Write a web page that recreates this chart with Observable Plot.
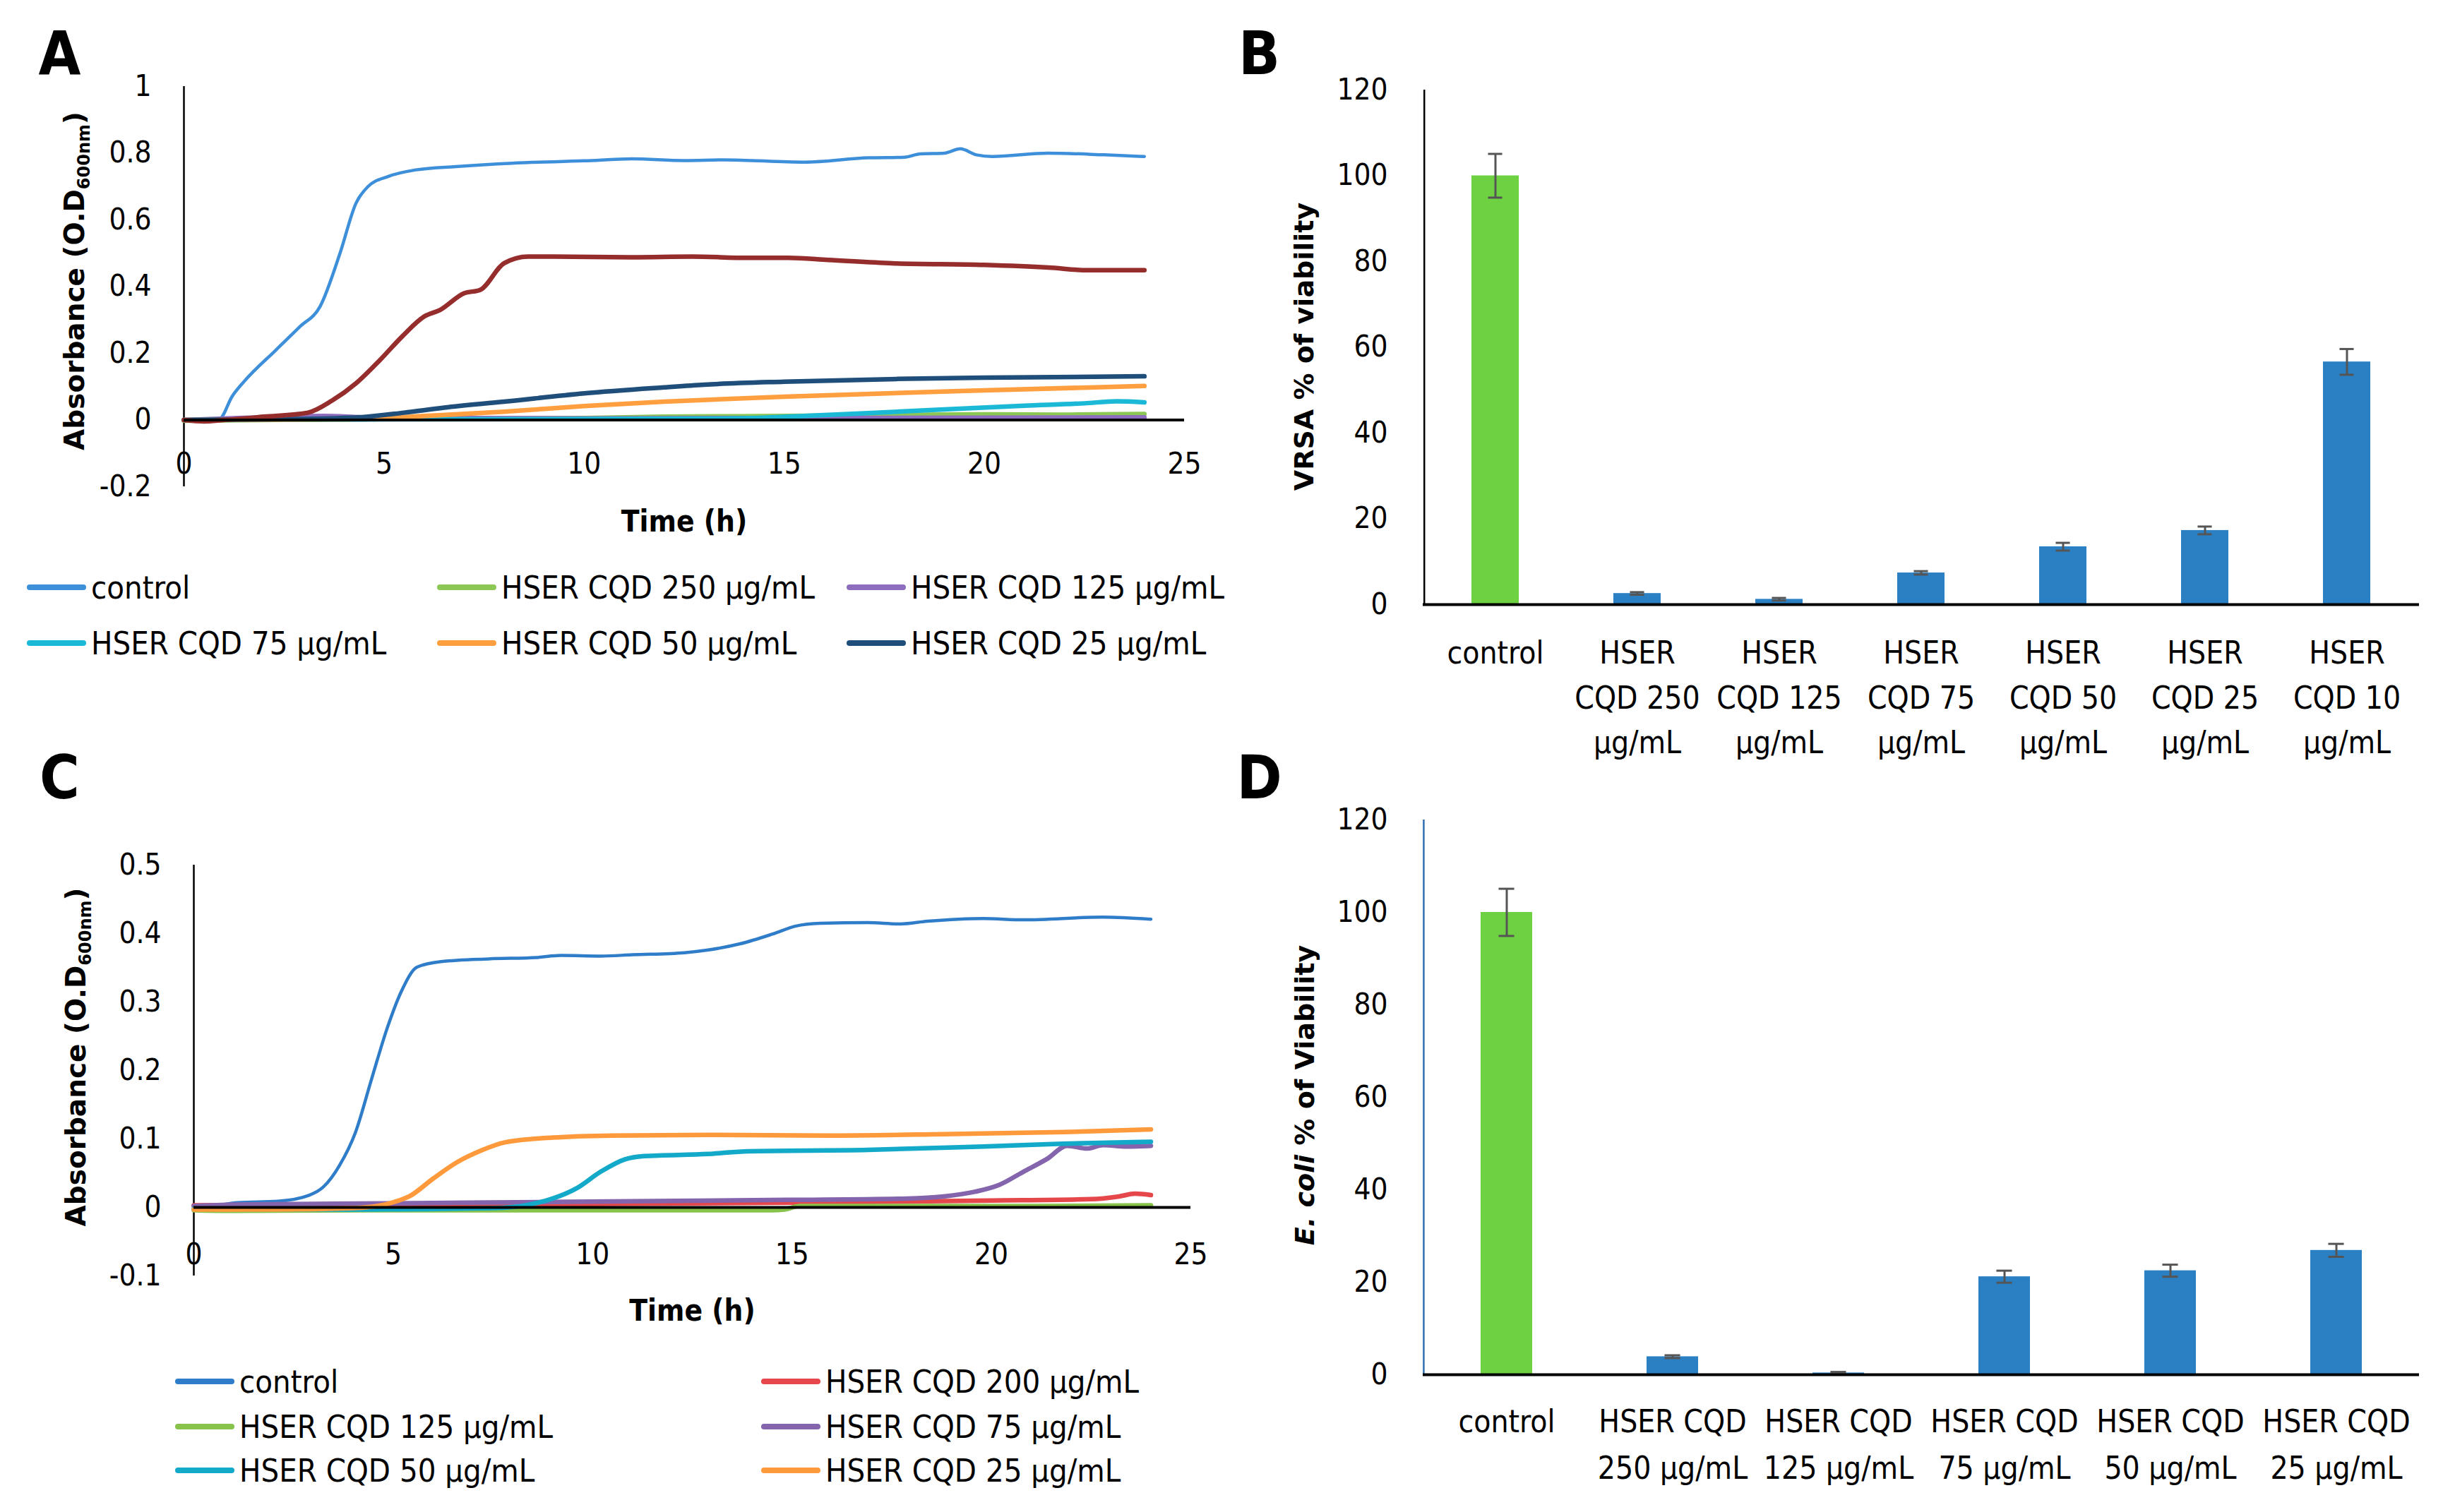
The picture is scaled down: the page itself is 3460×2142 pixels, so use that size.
<!DOCTYPE html>
<html>
<head>
<meta charset="utf-8">
<script src="https://cdn.jsdelivr.net/npm/d3@7"></script>
<script src="https://cdn.jsdelivr.net/npm/@observablehq/plot@0.6"></script>
<style>
  body { margin: 0; background: #fff; }
  #fig { position: relative; width: 3460px; height: 2142px; background: #fff; overflow: hidden; }
  .leg { position: absolute; height: 70px; display: flex; align-items: center; white-space: nowrap;
         font-family: 'DejaVu Sans Condensed', 'Open Sans', sans-serif; font-size: 45px; color: #000; }
  .sw { display: inline-block; width: 84px; height: 8px; margin-right: 7px; border-radius: 4px; }
</style>
</head>
<body>
<div id="fig"></div>
<script>
// ---------------- DATA ----------------
// Panel A: VRSA growth curves (time h, absorbance)
const aControl = [[0,0],[0.5,-0.004],[0.9,0.004],[1.2,0.07],[1.5,0.115],[2.3,0.21],[2.9,0.28],[3.4,0.34],[3.9,0.5],[4.3,0.65],[4.6,0.70],[5.1,0.73],[5.8,0.75],[6.8,0.76],[8.2,0.77],[10,0.777],[11.2,0.783],[12.5,0.778],[13.5,0.78],[15.5,0.773],[17.1,0.786],[18,0.788],[18.4,0.798],[19,0.80],[19.4,0.813],[19.8,0.795],[20.2,0.79],[21.6,0.80],[23,0.795],[24,0.79]];
const a250 = [[0,-0.002],[2,0],[5,0.003],[10,0.006],[12,0.01],[15,0.012],[18,0.015],[20,0.017],[22,0.016],[24,0.018]];
const a125 = [[0,0],[1,0.004],[2.5,0.01],[3.5,0.012],[4.5,0.008],[6,0.006],[10,0.005],[15,0.006],[20,0.007],[24,0.008]];
const a75 = [[0,0],[5,0.002],[13,0.004],[14.5,0.007],[15.5,0.012],[17,0.02],[19,0.032],[21,0.043],[22.5,0.05],[23.3,0.056],[24,0.053]];
const a50 = [[0,0],[4,0.002],[5,0.006],[6,0.012],[8,0.025],[10,0.042],[12,0.055],[15,0.07],[20,0.089],[24,0.102]];
const a25 = [[0,0],[3,0.003],[4.5,0.009],[5.5,0.022],[6.5,0.037],[8,0.055],[10,0.08],[12,0.098],[13,0.106],[15,0.115],[17.8,0.123],[20,0.127],[24,0.131]];
const a10 = [[0,0],[0.5,-0.004],[1,0],[2,0.01],[3.1,0.022],[3.7,0.058],[4.3,0.11],[4.9,0.18],[5.45,0.25],[6.0,0.31],[6.4,0.33],[7.0,0.38],[7.4,0.39],[8.0,0.47],[8.6,0.49],[9.2,0.49],[11.2,0.488],[12.7,0.49],[14.1,0.486],[15.1,0.486],[16.1,0.48],[17.7,0.47],[20,0.465],[21.6,0.457],[22.6,0.449],[24,0.449]];

// Panel C: E. coli growth curves
const cControl = [[0,0],[0.5,0.002],[1.1,0.007],[2.1,0.009],[2.9,0.018],[3.25,0.03],[3.65,0.061],[4.05,0.109],[4.45,0.186],[4.85,0.262],[5.2,0.315],[5.6,0.351],[6.2,0.359],[7.4,0.363],[8.6,0.365],[9.2,0.368],[10.2,0.367],[11,0.369],[12.3,0.372],[12.9,0.376],[13.7,0.385],[14.5,0.399],[15.1,0.411],[15.7,0.415],[16.9,0.416],[17.7,0.414],[18.4,0.418],[19.8,0.422],[20.8,0.42],[22.8,0.424],[24,0.421]];
const c200 = [[0,0.003],[5,0.004],[10,0.005],[15,0.007],[20,0.01],[22.5,0.012],[23.2,0.016],[23.6,0.02],[24,0.018]];
const c125 = [[0,-0.004],[1,-0.005],[5,-0.004],[10,-0.004],[14.5,-0.004],[14.8,-0.003],[15.2,0.002],[18,0.002],[21,0.002],[24,0.003]];
const c75 = [[0,0.002],[1,0.004],[5,0.006],[9,0.008],[14.9,0.011],[17.9,0.013],[18.8,0.016],[19.6,0.023],[20.2,0.033],[20.8,0.052],[21.4,0.071],[21.9,0.09],[22.4,0.086],[22.8,0.091],[23.4,0.089],[24,0.09]];
const c50 = [[0,-0.002],[4,-0.003],[7.5,-0.001],[8.4,0.004],[9.0,0.013],[9.6,0.028],[10.2,0.052],[10.8,0.07],[11.3,0.075],[12.9,0.078],[13.9,0.082],[16.9,0.084],[19.8,0.089],[21.8,0.093],[24,0.096]];
const c25 = [[0,-0.003],[2,-0.003],[4,-0.001],[4.6,0.002],[5.03,0.008],[5.4,0.016],[6.0,0.042],[6.6,0.066],[7.2,0.083],[7.8,0.095],[9.0,0.102],[10.5,0.105],[12.9,0.106],[15.9,0.105],[18.8,0.107],[21.8,0.11],[24,0.114]];

// Panel B: VRSA % viability
const catsB = ["control","HSER CQD 250 µg/mL","HSER CQD 125 µg/mL","HSER CQD 75 µg/mL","HSER CQD 50 µg/mL","HSER CQD 25 µg/mL","HSER CQD 10 µg/mL"];
const tickLabelsB = ["control","HSER\nCQD 250\nµg/mL","HSER\nCQD 125\nµg/mL","HSER\nCQD 75\nµg/mL","HSER\nCQD 50\nµg/mL","HSER\nCQD 25\nµg/mL","HSER\nCQD 10\nµg/mL"];
const valuesB = [100, 2.6, 1.25, 7.4, 13.5, 17.3, 56.6];
const errorsB = [5.1, 0.3, 0.3, 0.4, 0.9, 0.9, 3.0];

// Panel D: E. coli % viability
const catsD = ["control","HSER CQD 250 µg/mL","HSER CQD 125 µg/mL","HSER CQD 75 µg/mL","HSER CQD 50 µg/mL","HSER CQD 25 µg/mL"];
const tickLabelsD = ["control","HSER CQD\n250 µg/mL","HSER CQD\n125 µg/mL","HSER CQD\n75 µg/mL","HSER CQD\n50 µg/mL","HSER CQD\n25 µg/mL"];
const valuesD = [100, 3.9, 0.4, 21.2, 22.5, 26.9];
const errorsD = [5.1, 0.3, 0.2, 1.3, 1.3, 1.4];

const xTicks = [0, 5, 10, 15, 20, 25];
const yTicksA = [-0.2, 0, 0.2, 0.4, 0.6, 0.8, 1];
const yTicksC = [-0.1, 0, 0.1, 0.2, 0.3, 0.4, 0.5];
const yTicksBar = [0, 20, 40, 60, 80, 100, 120];

// ---------------- STYLE ----------------
const NARROW = "'DejaVu Sans Condensed', 'Open Sans', sans-serif";
const WIDE = "'DejaVu Sans', Verdana, sans-serif";
const GREEN = "#6DD142", BLUE = "#2B80C4", ERR = "#555555";

const seriesA = [
  {name: "control", color: "#3D8FD9", w: 4.5, pts: aControl, legend: [0, 0]},
  {name: "HSER CQD 250 µg/mL", color: "#8CC654", w: 6.5, pts: a250, legend: [1, 0]},
  {name: "HSER CQD 125 µg/mL", color: "#8E6DBF", w: 6.5, pts: a125, legend: [2, 0]},
  {name: "HSER CQD 75 µg/mL", color: "#1CB9D6", w: 6.5, pts: a75, legend: [0, 1]},
  {name: "HSER CQD 50 µg/mL", color: "#FF9F40", w: 6.5, pts: a50, legend: [1, 1]},
  {name: "HSER CQD 25 µg/mL", color: "#1F4E7A", w: 6.5, pts: a25, legend: [2, 1]},
  {name: "HSER CQD 10 µg/mL", color: "#962D2D", w: 6.5, pts: a10, legend: null}
];
const seriesC = [
  {name: "control", color: "#2F7DC8", w: 4.5, pts: cControl, legend: [0, 0]},
  {name: "HSER CQD 200 µg/mL", color: "#E5474B", w: 6.5, pts: c200, legend: [1, 0]},
  {name: "HSER CQD 125 µg/mL", color: "#87C24B", w: 6.5, pts: c125, legend: [0, 1]},
  {name: "HSER CQD 75 µg/mL", color: "#8464AC", w: 6.5, pts: c75, legend: [1, 1]},
  {name: "HSER CQD 50 µg/mL", color: "#13A9C9", w: 6.5, pts: c50, legend: [0, 2]},
  {name: "HSER CQD 25 µg/mL", color: "#FF9A3C", w: 6.5, pts: c25, legend: [1, 2]}
];

const fmt = d => String(+(+d).toFixed(1));
const fig = document.getElementById("fig");
function place(el, left, top) {
  el.style.position = "absolute"; el.style.left = left + "px"; el.style.top = top + "px";
  fig.appendChild(el);
}
const NS = "http://www.w3.org/2000/svg";
function rewrite(svg, full, parts) {
  svg.querySelectorAll("text").forEach(t => {
    if (t.textContent === full) {
      t.textContent = "";
      parts.forEach(p => {
        const s = document.createElementNS(NS, "tspan");
        s.textContent = p.t;
        if (p.size) s.setAttribute("font-size", p.size);
        if (p.dy) s.setAttribute("dy", p.dy);
        if (p.italic) s.setAttribute("font-style", "italic");
        t.appendChild(s);
      });
    }
  });
}

// ---------------- LINE PANELS ----------------
function linePanel(o) {
  return Plot.plot({
    width: o.width, height: o.height,
    marginLeft: o.ml, marginRight: o.mr, marginTop: o.mt, marginBottom: o.mb,
    x: {domain: [0, 25]}, y: {domain: o.ydomain},
    style: {fontFamily: NARROW, background: "none", color: "#000"},
    marks: [
      Plot.axisY({ticks: o.yticks, tickSize: 0, tickPadding: o.ytp, fontSize: 42, tickFormat: fmt, label: null}),
      Plot.axisX({ticks: xTicks, tickSize: 0, tickPadding: 0, dy: o.xdy, fontSize: 42, tickFormat: fmt, label: null}),
      Plot.ruleX([0], {stroke: "#000", strokeWidth: 2.5}),
      ...o.series.map(s => Plot.line(s.pts, {x: d => d[0], y: d => d[1], stroke: s.color, strokeWidth: s.w, curve: "monotone-x"})),
      Plot.ruleY([0], {stroke: "#000", strokeWidth: 4}),
      Plot.text(["Time (h)"], {text: d => d, frameAnchor: "bottom", dy: o.tdy, fontSize: 42, fontWeight: "bold", textAnchor: "middle", lineAnchor: "middle"}),
      Plot.text(["Absorbance (O.D600nm)"], {text: d => d, frameAnchor: "left", rotate: -90, dx: o.ldx, dy: o.ldy, fontFamily: WIDE, fontSize: 39, fontWeight: "bold", textAnchor: "middle", lineAnchor: "middle"}),
      Plot.text([o.letter], {text: d => d, frameAnchor: "top-left", dx: o.pdx, dy: o.pdy, fontSize: 86, fontWeight: "bold", textAnchor: "middle", lineAnchor: "middle"})
    ]
  });
}
function fixAbs(svg) {
  rewrite(svg, "Absorbance (O.D600nm)", [{t: "Absorbance (O.D"}, {t: "600nm", size: 24, dy: 8}, {t: ")", dy: -8}]);
}

const plotA = linePanel({width: 1730, height: 770, ml: 260, mr: 53, mt: 122, mb: 81,
  ydomain: [-0.2, 1], yticks: yTicksA, ytp: 46, xdy: -48, tdy: 50, ldx: -154, ldy: -8,
  letter: "A", pdx: -176, pdy: -45, series: seriesA});
fixAbs(plotA); place(plotA, 0, 0);

const plotC = linePanel({width: 1730, height: 870, ml: 274, mr: 44, mt: 185, mb: 103,
  ydomain: [-0.1, 0.5], yticks: yTicksC, ytp: 46, xdy: -46, tdy: 50, ldx: -166, ldy: -19,
  letter: "C", pdx: -190, pdy: -122, series: seriesC});
fixAbs(plotC); place(plotC, 0, 1040);

function legend(series, cols, rows) {
  series.filter(s => s.legend).forEach(s => {
    const d = document.createElement("div");
    d.className = "leg";
    d.innerHTML = `<span class="sw" style="background:${s.color}"></span><span>${s.name}</span>`;
    place(d, cols[s.legend[0]], rows[s.legend[1]] - 35);
  });
}
legend(seriesA, [38, 619, 1199], [832, 911]);
legend(seriesC, [248, 1078], [1957, 2021, 2083]);

// ---------------- BAR PANELS ----------------
function barPanel(o) {
  const table = o.cats.map((c, i) => ({cat: c, value: o.values[i], err: o.errors[i]}));
  const step = (o.width - o.ml - o.mr) / o.cats.length;
  const bw = step * (1 - o.pi);
  const capInset = (bw - o.cap) / 2;
  return Plot.plot({
    width: o.width, height: o.height,
    marginLeft: o.ml, marginRight: o.mr, marginTop: o.mt, marginBottom: o.mb,
    x: {domain: o.cats, paddingInner: o.pi, paddingOuter: o.pi / 2},
    y: {domain: [0, 120]},
    style: {fontFamily: NARROW, background: "none", color: "#000"},
    marks: [
      Plot.axisY({ticks: yTicksBar, tickSize: 0, tickPadding: 50, fontSize: 42, label: null}),
      Plot.axisX({tickSize: 0, tickPadding: o.xtp, fontSize: 44, lineHeight: o.lh, tickFormat: d => o.labels[o.cats.indexOf(d)], label: null}),
      Plot.barY(table, {filter: d => d.cat === "control", x: "cat", y: "value", fill: GREEN}),
      Plot.barY(table, {filter: d => d.cat !== "control", x: "cat", y: "value", fill: BLUE}),
      Plot.ruleX(table, {x: "cat", y1: d => d.value - d.err, y2: d => d.value + d.err, stroke: ERR, strokeWidth: 3}),
      Plot.tickY(table, {x: "cat", y: d => d.value + d.err, stroke: ERR, strokeWidth: 3, insetLeft: capInset, insetRight: capInset}),
      Plot.tickY(table, {x: "cat", y: d => d.value - d.err, stroke: ERR, strokeWidth: 3, insetLeft: capInset, insetRight: capInset}),
      Plot.ruleX([o.cats[0]], {dx: -step / 2, y1: 0, y2: 120, stroke: o.axisColor, strokeWidth: 2.5}),
      Plot.ruleY([0], {stroke: "#000", strokeWidth: 4}),
      Plot.text([o.ylabel], {text: d => d, frameAnchor: "left", rotate: -90, dx: o.ldx, dy: o.ldy, fontFamily: WIDE, fontSize: 38, fontWeight: "bold", textAnchor: "middle", lineAnchor: "middle"}),
      Plot.text([o.letter], {text: d => d, frameAnchor: "top-left", dx: o.pdx, dy: o.pdy, fontSize: 86, fontWeight: "bold", textAnchor: "middle", lineAnchor: "middle"})
    ]
  });
}

const plotB = barPanel({width: 1730, height: 1080, ml: 285, mr: 34, mt: 127, mb: 224,
  cats: catsB, labels: tickLabelsB, values: valuesB, errors: errorsB, pi: 0.668, cap: 20,
  xtp: 38, lh: 1.45, axisColor: "#000", ylabel: "VRSA % of viability", ldx: -168, ldy: -1,
  letter: "B", pdx: -232, pdy: -50});
place(plotB, 1730, 0);

const plotD = barPanel({width: 1730, height: 1102, ml: 285, mr: 34, mt: 121, mb: 195,
  cats: catsD, labels: tickLabelsD, values: valuesD, errors: errorsD, pi: 0.69, cap: 22,
  xtp: 35, lh: 1.5, axisColor: "#2E6FB0", ylabel: "E. coli % of Viability", ldx: -167, ldy: -3,
  letter: "D", pdx: -232, pdy: -58});
rewrite(plotD, "E. coli % of Viability", [{t: "E. coli", italic: true}, {t: " % of Viability"}]);
place(plotD, 1730, 1040);
</script>
</body>
</html>
